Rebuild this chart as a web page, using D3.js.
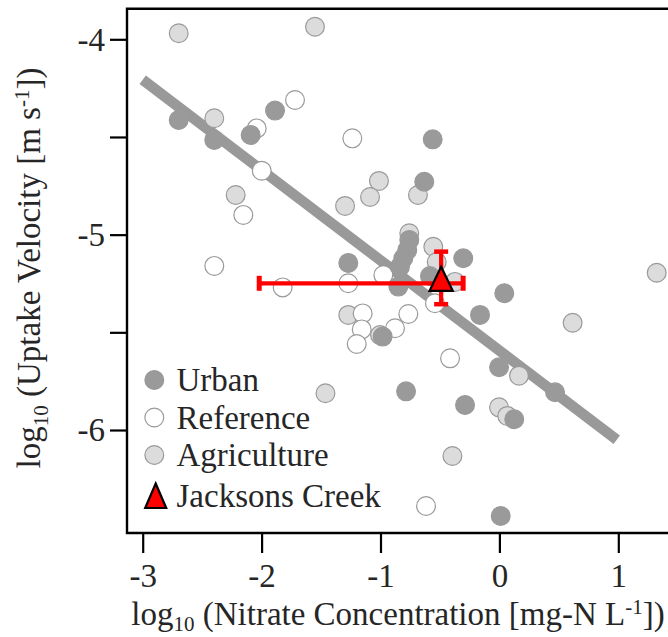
<!DOCTYPE html>
<html>
<head>
<meta charset="utf-8">
<script src="https://cdn.jsdelivr.net/npm/d3@7"></script>
<style>
  html, body { margin: 0; padding: 0; background: #fff; }
  svg { display: block; }
  text { font-family: "Liberation Serif", "Times New Roman", serif; fill: #262626; }
</style>
</head>
<body>
<svg id="chart" width="668" height="637"></svg>
<script>
// ---- data (log10 nitrate, log10 uptake velocity) ----
const urbanX = [-2.697, -2.398, -2.092, -1.887, -0.561, -0.632, -0.758, -0.775, -0.808, -0.836, -0.850, -1.271, -0.304, -0.584, -0.982, -0.163, 0.041, -0.003, 0.468, -0.785, -0.289, 0.125, 0.011];
const urbanY = [-4.413, -4.515, -4.490, -4.365, -4.512, -4.729, -5.027, -5.079, -5.121, -5.164, -5.266, -5.145, -5.121, -5.212, -5.522, -5.411, -5.300, -5.679, -5.807, -5.802, -5.872, -5.945, -6.440];

const referenceX = [-2.041, -1.719, -1.999, -1.237, -2.154, -2.398, -1.823, -1.271, -0.976, -1.150, -1.158, -1.200, -0.878, -0.766, -0.542, -0.415, -0.617];
const referenceY = [-4.456, -4.311, -4.673, -4.507, -4.899, -5.160, -5.270, -5.249, -5.207, -5.403, -5.485, -5.560, -5.479, -5.406, -5.351, -5.633, -6.389];

const agricultureX = [-2.697, -1.551, -2.398, -2.218, -1.013, -1.088, -1.298, -0.685, -0.758, -0.556, -0.527, -0.374, -1.271, -1.004, 1.323, 0.616, 0.165, -0.003, 0.066, -1.463, -0.395];
const agricultureY = [-3.969, -3.936, -4.404, -4.797, -4.725, -4.807, -4.853, -4.797, -4.993, -5.062, -5.140, -5.242, -5.411, -5.514, -5.195, -5.451, -5.722, -5.884, -5.928, -5.812, -6.133];

// Jacksons Creek (point with asymmetric error bars)
const jcPoint = [-0.49, -5.249];
const jcXErr = [-2.02, -0.305];
const jcYErr = [-5.087, -5.356];

// regression line endpoints
const fitX = [-3.0, 0.987];
const fitY = [-4.207, -6.050];

const xTickValues = [-3, -2, -1, 0, 1];
const yTickValues = [-4, -4.5, -5, -5.5, -6];
const yTickLabels = {"-4": "-4", "-5": "-5", "-6": "-6"};

const legendLabels = ["Urban", "Reference", "Agriculture", "Jacksons Creek"];

// ---- layout ----
const svg = d3.select("#chart");
const frame = {left: 127, top: 8.7, bottom: 533, right: 672};

const x = d3.scaleLinear().domain([-3, 1]).range([142.7, 618.3]);
const y = d3.scaleLinear().domain([-4, -6]).range([39.3, 430]);

const styles = {
  urban: {fill: "#9a9a9a", stroke: "#9a9a9a"},
  reference: {fill: "#ffffff", stroke: "#9a9a9a"},
  agriculture: {fill: "#dcdcdc", stroke: "#9a9a9a"}
};
const R = 9.4;

// regression line
svg.append("line")
  .attr("x1", x(fitX[0])).attr("y1", y(fitY[0]))
  .attr("x2", x(fitX[1])).attr("y2", y(fitY[1]))
  .attr("stroke", "#999").attr("stroke-width", 10.5).attr("stroke-linecap", "butt");

function drawPoints(xs, ys, st) {
  svg.append("g").selectAll("circle").data(xs.map((d, i) => [d, ys[i]])).join("circle")
    .attr("cx", d => x(d[0])).attr("cy", d => y(d[1])).attr("r", R)
    .attr("fill", st.fill).attr("stroke", st.stroke).attr("stroke-width", 1.2);
}
drawPoints(agricultureX, agricultureY, styles.agriculture);
drawPoints(referenceX, referenceY, styles.reference);
drawPoints(urbanX, urbanY, styles.urban);

// error bars
const eb = svg.append("g").attr("stroke", "#ff0000").attr("stroke-width", 4.2);
eb.append("line").attr("x1", x(jcXErr[0])).attr("x2", x(jcXErr[1]))
  .attr("y1", y(jcPoint[1])).attr("y2", y(jcPoint[1]));
jcXErr.forEach(v => eb.append("line").attr("x1", x(v)).attr("x2", x(v))
  .attr("y1", y(jcPoint[1]) - 7.5).attr("y2", y(jcPoint[1]) + 7.5).attr("stroke-width", 5));
eb.append("line").attr("x1", x(jcPoint[0])).attr("x2", x(jcPoint[0]))
  .attr("y1", y(jcYErr[0])).attr("y2", y(jcYErr[1]));
jcYErr.forEach(v => eb.append("line").attr("y1", y(v)).attr("y2", y(v))
  .attr("x1", x(jcPoint[0]) - 7).attr("x2", x(jcPoint[0]) + 7).attr("stroke-width", 4.5));

const triPath = "M0,-16.5L11.6,7.5L-11.6,7.5Z";
svg.append("path").attr("d", triPath)
  .attr("transform", `translate(${x(jcPoint[0])},${y(jcPoint[1])})`)
  .attr("fill", "#ff0000").attr("stroke", "#000").attr("stroke-width", 2.2).attr("stroke-linejoin", "miter");

// frame
const fr = svg.append("g").attr("stroke", "#000").attr("stroke-width", 2.4).attr("fill", "none");
fr.append("path").attr("d", `M${frame.right},${frame.top}H${frame.left}V${frame.bottom}H${frame.right}`);

// axes
const xAxis = d3.axisBottom(x).tickValues(xTickValues).tickSize(20).tickSizeOuter(0)
  .tickFormat(d => d < 0 ? "-" + Math.abs(d) : String(d));
const gx = svg.append("g").attr("transform", `translate(0,${frame.bottom})`).call(xAxis);
gx.select(".domain").remove();
gx.selectAll("line").attr("stroke", "#000").attr("stroke-width", 2.2);
gx.selectAll("text").attr("font-size", 33).attr("dy", 0).attr("y", 54)
  .style("font-family", "Liberation Serif").attr("fill", "#262626");

const yAxis = d3.axisLeft(y).tickValues(yTickValues).tickSize(17).tickSizeOuter(0)
  .tickFormat(d => yTickLabels[String(d)] || "");
const gy = svg.append("g").attr("transform", `translate(${frame.left},0)`).call(yAxis);
gy.select(".domain").remove();
gy.selectAll("line").attr("stroke", "#000").attr("stroke-width", 2.2);
gy.selectAll("text").attr("font-size", 33).attr("x", -22).attr("dy", "0.33em")
  .style("font-family", "Liberation Serif").attr("fill", "#262626");

// axis titles
const xt = svg.append("text").attr("x", 398).attr("y", 625).attr("text-anchor", "middle").attr("font-size", 33);
xt.append("tspan").text("log");
xt.append("tspan").text("10").attr("font-size", 21).attr("dy", 6);
xt.append("tspan").text(" (Nitrate Concentration [mg-N L").attr("dy", -6);
xt.append("tspan").text("-1").attr("font-size", 21).attr("dy", -11);
xt.append("tspan").text("])").attr("dy", 11);

const yt = svg.append("text").attr("transform", "translate(40,268) rotate(-90)")
  .attr("text-anchor", "middle").attr("font-size", 33);
yt.append("tspan").text("log");
yt.append("tspan").text("10").attr("font-size", 21).attr("dy", 8);
yt.append("tspan").text(" (Uptake Velocity [m s").attr("dy", -8);
yt.append("tspan").text("-1").attr("font-size", 21).attr("dy", -11);
yt.append("tspan").text("])").attr("dy", 11);

// legend
const legendYs = [380, 417.5, 455, 496];
const legendStyles = [styles.urban, styles.reference, styles.agriculture];
const lg = svg.append("g");
legendLabels.forEach((lab, i) => {
  if (i < 3) {
    lg.append("circle").attr("cx", 154.3).attr("cy", legendYs[i]).attr("r", R)
      .attr("fill", legendStyles[i].fill).attr("stroke", legendStyles[i].stroke).attr("stroke-width", 1.2);
  } else {
    lg.append("path").attr("d", "M0,-12.5L10.5,12L-10.5,12Z")
      .attr("transform", `translate(155.7,${legendYs[i]})`)
      .attr("fill", "#ff0000").attr("stroke", "#000").attr("stroke-width", 2.2);
  }
  lg.append("text").attr("x", 176.5).attr("y", legendYs[i] + 11).attr("font-size", 33).text(lab);
});
</script>
</body>
</html>
